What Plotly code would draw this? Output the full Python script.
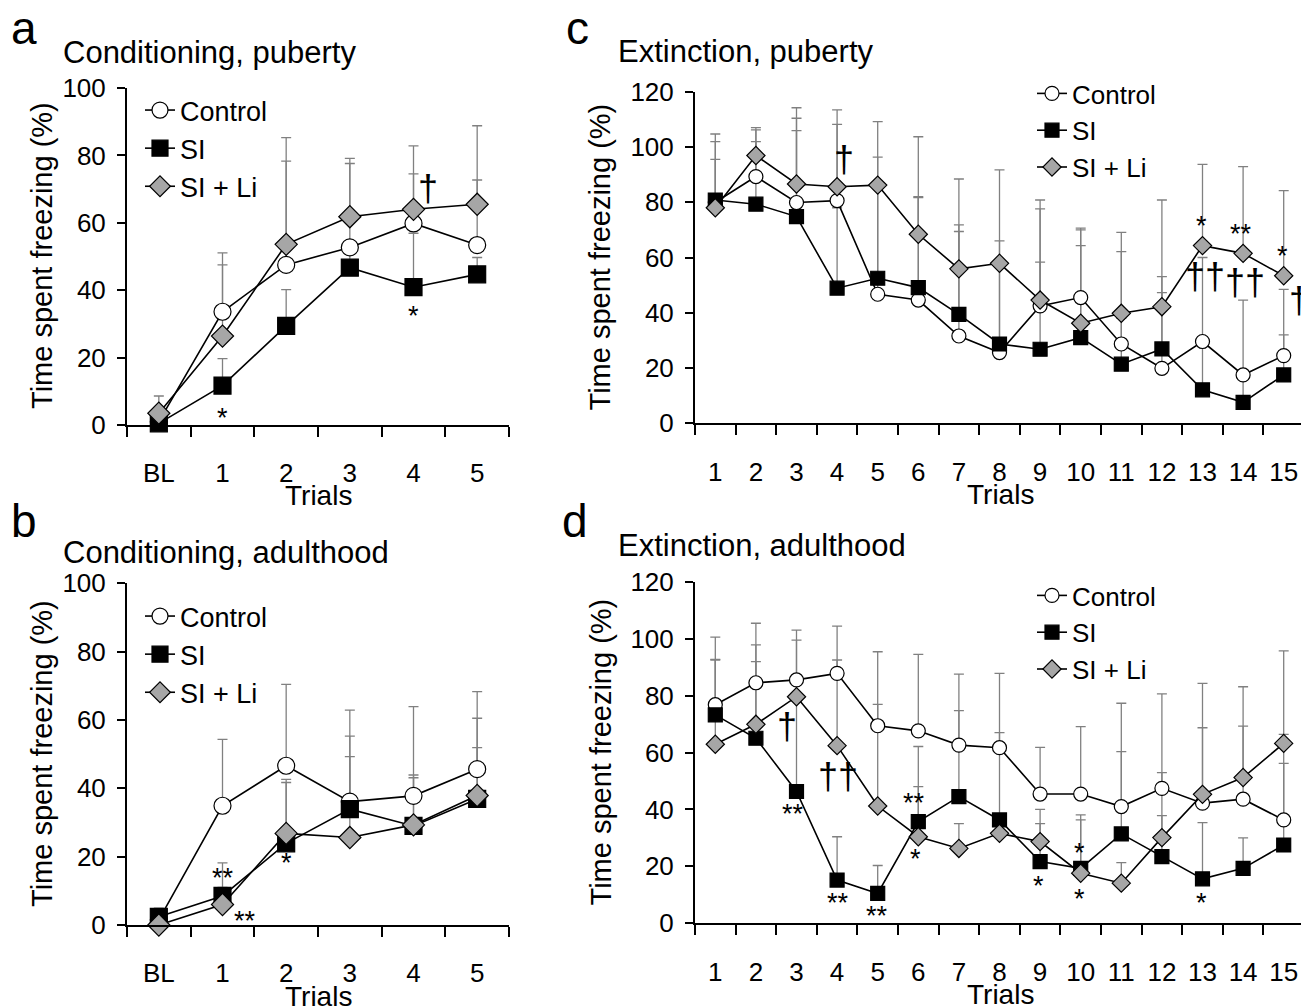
import plotly.graph_objects as go

FONT = "Liberation Sans, Arial, sans-serif"
W, H = 1309, 1007
BODY = 8  # default page margin of the written html

# ---------------- data ----------------
cond_trials = ["BL", "1", "2", "3", "4", "5"]
ext_trials = [str(i) for i in range(1, 16)]

# a: Conditioning, puberty
a_control = [1.0, 33.6, 47.5, 52.7, 59.8, 53.4]
a_control_err = [2.0, 17.5, 30.8, 24.9, 14.7, 19.3]
a_si = [0.5, 11.7, 29.4, 46.7, 40.9, 44.7]
a_si_err = [1.5, 8.0, 10.8, 5.0, 16.0, 5.0]
a_sili = [3.5, 26.4, 53.6, 61.8, 64.0, 65.5]
a_sili_err = [5.1, 21.1, 31.7, 17.3, 18.8, 23.3]

# b: Conditioning, adulthood
b_control = [1.5, 34.9, 46.6, 36.1, 37.8, 45.6]
b_control_err = [3.4, 19.4, 23.8, 26.8, 26.1, 22.7]
b_si = [2.4, 8.5, 23.9, 33.9, 29.0, 36.9]
b_si_err = [1.5, 9.7, 18.7, 21.4, 14.9, 15.0]
b_sili = [0.0, 6.0, 26.8, 25.6, 29.3, 37.9]
b_sili_err = [1.0, 5.0, 14.9, 23.7, 13.8, 22.6]

# c: Extinction, puberty
c_control = [80.0, 89.3, 79.9, 80.6, 46.7, 44.6, 31.6, 25.6, 42.5, 45.5, 28.7, 19.9, 29.6, 17.5, 24.5]
c_control_err = [24.7, 16.9, 30.5, 27.6, 49.6, 37.4, 40.2, 40.4, 35.1, 25.1, 33.4, 33.2, 30.4, 27.1, 24.0]
c_si = [80.8, 79.3, 74.8, 48.9, 52.5, 49.1, 39.4, 28.7, 26.8, 31.0, 21.4, 26.9, 12.1, 7.6, 17.5]
c_si_err = [14.7, 22.6, 31.1, 29.1, 32.5, 32.6, 30.0, 29.3, 31.5, 33.3, 16.6, 20.4, 15.9, 8.4, 14.5]
c_sili = [78.0, 96.9, 86.6, 85.6, 86.2, 68.4, 55.9, 57.9, 44.6, 36.2, 39.8, 42.2, 64.3, 61.5, 53.4]
c_sili_err = [23.9, 10.1, 27.6, 27.8, 23.0, 35.3, 32.5, 33.8, 36.2, 33.8, 29.3, 38.6, 29.4, 31.4, 30.8]

# d: Extinction, adulthood
d_control = [76.8, 84.5, 85.5, 87.8, 69.4, 67.6, 62.6, 61.7, 45.4, 45.4, 41.0, 47.4, 42.2, 43.6, 36.3]
d_control_err = [23.7, 20.9, 17.5, 16.6, 26.0, 26.9, 24.9, 26.1, 16.4, 23.7, 36.3, 33.2, 26.5, 25.7, 19.9]
d_si = [73.2, 65.0, 46.3, 15.2, 10.5, 35.7, 44.5, 36.3, 21.7, 19.3, 31.4, 23.4, 15.6, 19.3, 27.5]
d_si_err = [19.5, 26.9, 31.7, 15.2, 9.8, 26.4, 30.2, 30.7, 13.3, 18.8, 28.9, 29.5, 19.8, 10.7, 38.9]
d_sili = [62.9, 69.9, 79.6, 62.4, 41.2, 30.4, 26.3, 31.6, 28.7, 17.6, 14.1, 30.1, 45.3, 51.2, 63.2]
d_sili_err = [29.6, 27.9, 19.9, 30.1, 35.7, 17.6, 8.7, 6.4, 11.3, 18.7, 7.2, 7.7, 39.0, 31.9, 32.5]

series_names = ["Control", "SI", "SI + Li"]
cond_yticks = [0, 20, 40, 60, 80, 100]
ext_yticks = [0, 20, 40, 60, 80, 100, 120]

# significance marks: (category index, value, text)
a_marks = [(1, 3.9, "*"), (4, 34.1, "*"), (4.23, 70.3, "†")]
b_marks = [(1.0, 15.5, "**"), (2.0, 19.9, "*"), (1.35, 2.9, "**")]
c_marks = [(3.17, 95.3, "†"), (11.98, 73.6, "*"), (12.96, 70.7, "**"), (13.96, 62.7, "*"),
           (12.06, 53.0, "††"), (13.05, 50.8, "††"), (14.38, 44.6, "†")]
d_marks = [(1.77, 69.0, "†"), (3.02, 51.4, "††"), (1.91, 40.6, "**"), (3.02, 9.3, "**"),
           (3.98, 4.7, "**"), (4.9, 44.4, "**"), (4.94, 24.7, "*"), (7.97, 15.2, "*"),
           (8.96, 26.8, "*"), (8.96, 10.6, "*"), (11.98, 9.3, "*")]

# ---------------- helpers ----------------
FW, FH = W - BODY, H - BODY


def px_x(p):
    return (p - BODY) / FW


def px_y(p):
    return 1 - (p - BODY) / FH


fig = go.Figure()

styles = [
    dict(symbol="circle", color="white"),
    dict(symbol="square", color="black"),
    dict(symbol="diamond", color="#a6a6a6"),
]

panels = [
    dict(key="", cats=cond_trials, data=[(a_control, a_control_err), (a_si, a_si_err), (a_sili, a_sili_err)],
         marks=a_marks, legend="legend", msize=17),
    dict(key="2", cats=cond_trials, data=[(b_control, b_control_err), (b_si, b_si_err), (b_sili, b_sili_err)],
         marks=b_marks, legend="legend2", msize=17),
    dict(key="3", cats=ext_trials, data=[(c_control, c_control_err), (c_si, c_si_err), (c_sili, c_sili_err)],
         marks=c_marks, legend="legend3", msize=14),
    dict(key="4", cats=ext_trials, data=[(d_control, d_control_err), (d_si, d_si_err), (d_sili, d_sili_err)],
         marks=d_marks, legend="legend4", msize=14),
]

annotations = []
for p in panels:
    xa, ya = "x" + p["key"], "y" + p["key"]
    # error bars first (behind every line and marker)
    for (vals, errs) in p["data"]:
        fig.add_trace(go.Scatter(
            x=p["cats"], y=vals, mode="markers", xaxis=xa, yaxis=ya,
            marker=dict(size=1, color="rgba(0,0,0,0)"),
            error_y=dict(type="data", array=errs, arrayminus=[0] * len(errs), symmetric=False,
                         color="#808080", thickness=1.3, width=5),
            showlegend=False, hoverinfo="skip", cliponaxis=False))
    for name, st, (vals, errs) in zip(series_names, styles, p["data"]):
        fig.add_trace(go.Scatter(
            x=p["cats"], y=vals, mode="lines+markers", name=name, xaxis=xa, yaxis=ya,
            line=dict(color="black", width=1.6),
            marker=dict(symbol=st["symbol"], color=st["color"], size=p["msize"],
                        line=dict(color="black", width=1.2)),
            legend=p["legend"], cliponaxis=False))
    for (xi, yv, txt) in p["marks"]:
        star = "*" in txt
        annotations.append(dict(x=xi, y=yv, xref=xa, yref=ya, text=txt, showarrow=False,
                                font=dict(size=27 if star else 36, color="black", family=FONT),
                                yshift=-6 if star else 0, xanchor="center", yanchor="middle"))

axis_common = dict(showline=True, linecolor="black", linewidth=2, ticks="outside",
                   tickcolor="black", tickwidth=2, showgrid=False, zeroline=False, automargin=False,
                   tickfont=dict(size=26, color="black", family=FONT))

domains = {
    "": dict(x=[px_x(127), px_x(509)], y=[px_y(425), px_y(88)], yr=[0, 100], yt=cond_yticks, n=6),
    "2": dict(x=[px_x(127), px_x(509)], y=[px_y(925), px_y(583.3)], yr=[0, 100], yt=cond_yticks, n=6),
    "3": dict(x=[px_x(695), px_x(1304)], y=[px_y(423.3), px_y(91.7)], yr=[0, 120], yt=ext_yticks, n=15),
    "4": dict(x=[px_x(695), px_x(1304)], y=[px_y(923.3), px_y(581.7)], yr=[0, 120], yt=ext_yticks, n=15),
}

layout_axes = {}
for k, d in domains.items():
    layout_axes["xaxis" + k] = dict(axis_common, type="category", domain=d["x"], anchor="y" + k,
                                    range=[-0.5, d["n"] - 0.5], tickson="boundaries", ticklen=10,
                                    ticklabelstandoff=24)
    layout_axes["yaxis" + k] = dict(axis_common, domain=d["y"], anchor="x" + k, range=d["yr"],
                                    tickvals=d["yt"], ticklen=8, ticklabelstandoff=6)

# titles, panel letters, axis titles
texts = [
    ("a", 24, 28, 46, "center"), ("b", 24, 521, 46, "center"),
    ("c", 577, 28, 46, "center"), ("d", 575, 521, 46, "center"),
    ("Conditioning, puberty", 61, 53, 31, "left"), ("Conditioning, adulthood", 61, 552, 31, "left"),
    ("Extinction, puberty", 616, 51, 31, "left"), ("Extinction, adulthood", 616, 545, 31, "left"),
    ("Trials", 318, 495, 28, "center"), ("Trials", 318, 996, 28, "center"),
    ("Trials", 1000, 494, 28, "center"), ("Trials", 1000, 994, 28, "center"),
]
for t, x, y, s, anc in texts:
    annotations.append(dict(x=px_x(x), y=px_y(y), xref="paper", yref="paper", text=t, showarrow=False,
                            font=dict(size=s, color="black", family=FONT), xanchor=anc, yanchor="middle"))
for x, y in [(42, 256), (42, 754), (600, 257.5), (600, 752.5)]:
    annotations.append(dict(x=px_x(x), y=px_y(y), xref="paper", yref="paper", text="Time spent freezing (%)",
                            showarrow=False, textangle=-90, font=dict(size=29, color="black", family=FONT),
                            xanchor="center", yanchor="middle"))

legend_common = dict(font=dict(size=27, color="black", family=FONT), bgcolor="rgba(0,0,0,0)",
                     borderwidth=0, xanchor="left", yanchor="top", tracegroupgap=0, itemwidth=30)
small_font = dict(size=26, color="black", family=FONT)

fig.update_layout(
    template="none",
    width=FW, height=FH, margin=dict(l=0, r=0, t=0, b=0, pad=0), autosize=False,
    plot_bgcolor="white", paper_bgcolor="white",
    font=dict(family=FONT, color="black"),
    annotations=annotations,
    legend=dict(legend_common, x=px_x(140), y=px_y(86)),
    legend2=dict(legend_common, x=px_x(140), y=px_y(592)),
    legend3=dict(legend_common, x=px_x(1032), y=px_y(70), font=small_font),
    legend4=dict(legend_common, x=px_x(1032), y=px_y(572), font=small_font),
    **layout_axes,
)

fig.write_html("out.html")
